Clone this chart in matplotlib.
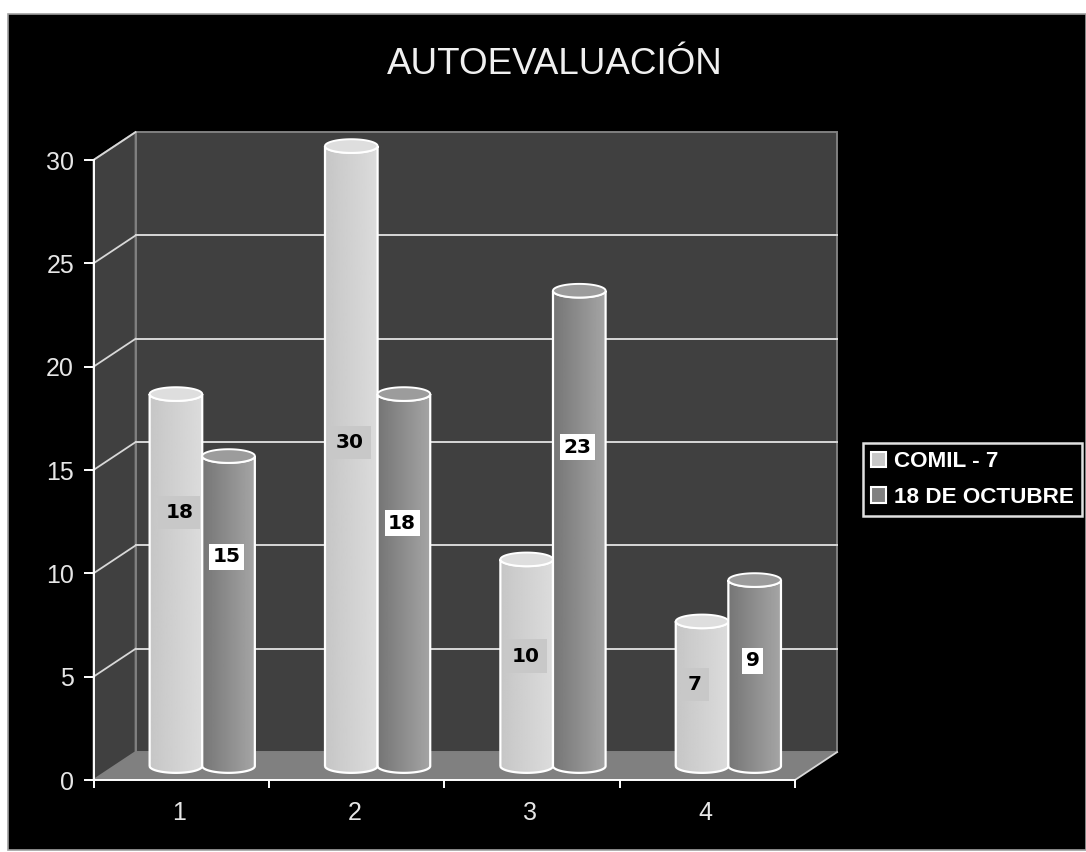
import numpy as np
import matplotlib
matplotlib.use('Agg')
import matplotlib.pyplot as plt
from matplotlib.patches import Patch, PathPatch, Polygon, Rectangle
from matplotlib.path import Path

categories = ['1', '2', '3', '4']
comil = [18, 30, 10, 7]
octubre = [15, 18, 23, 9]
y_ticks = [0, 5, 10, 15, 20, 25, 30]

# where the value boxes sit: part of the bar height, and sideways shift
comil_label_at = [0.72, 0.545, 0.60, 0.66]
octubre_label_at = [0.72, 0.69, 0.70, 0.64]
comil_label_dx = [0.02, -0.01, -0.005, -0.04]

W, H = 1086, 852
DEPTH_X, DEPTH_Y = 0.24, 1.35
BAR_W = 0.30
CAP_H = 0.66
GRID = '#d8d8d8'
WALL = '#404040'
EDGE = '#808080'

plt.rcParams['font.family'] = ['Liberation Sans', 'DejaVu Sans']


def cylinder(ax, left, value, cmap_from, cmap_to, cap_color, z):
    right = left + BAR_W
    mid = left + BAR_W / 2
    base = DEPTH_Y / 2
    top = base + value
    t = np.linspace(np.pi, 2 * np.pi, 40)
    low_x = mid + BAR_W / 2 * np.cos(t)
    low_y = base + CAP_H / 2 * np.sin(t)
    up_x = low_x[::-1]
    up_y = low_y[::-1] + value
    body = Path(np.column_stack([np.r_[low_x, up_x, low_x[0]], np.r_[low_y, up_y, low_y[0]]]), closed=False)

    grad = np.linspace(cmap_from, cmap_to, 64).reshape(1, -1)
    im = ax.imshow(grad, extent=(left, right, base - CAP_H, top + CAP_H), cmap='gray',
                   vmin=0, vmax=255, aspect='auto', zorder=z, interpolation='bilinear')
    patch = PathPatch(body, fc='none', ec='white', lw=1.6, zorder=z + 0.2, clip_on=False)
    ax.add_patch(patch)
    im.set_clip_box(fig.bbox)
    im.set_clip_path(patch)

    a = np.linspace(0, 2 * np.pi, 80)
    cap = np.column_stack([mid + BAR_W / 2 * np.cos(a), top + CAP_H / 2 * np.sin(a)])
    ax.add_patch(Polygon(cap, fc=cap_color, ec='white', lw=1.4, zorder=z + 0.3, clip_on=False))


fig = plt.figure(figsize=(W / 100, H / 100), dpi=100, facecolor='white')
fig.patches.append(Rectangle((8 / W, 1 - 850 / H), (W - 8) / W, 836 / H, transform=fig.transFigure,
                             fc='black', ec='#a0a0a0', lw=1.2, zorder=-1))

ax = fig.add_axes([93.5 / W, 1 - 780 / H, (795 - 93.5) / W, (780 - 160) / H])
ax.patch.set_alpha(0)

# walls and floor
ax.add_patch(Polygon([(DEPTH_X, DEPTH_Y), (4 + DEPTH_X, DEPTH_Y), (4 + DEPTH_X, 30 + DEPTH_Y), (DEPTH_X, 30 + DEPTH_Y)],
                     fc=WALL, ec=EDGE, lw=1.4, clip_on=False, zorder=1))
ax.add_patch(Polygon([(0, 0), (DEPTH_X, DEPTH_Y), (DEPTH_X, 30 + DEPTH_Y), (0, 30)],
                     fc=WALL, ec=EDGE, lw=1.4, clip_on=False, zorder=1))
ax.add_patch(Polygon([(0, 0), (4, 0), (4 + DEPTH_X, DEPTH_Y), (DEPTH_X, DEPTH_Y)],
                     fc=EDGE, ec='none', clip_on=False, zorder=1.1))
ax.plot([4, 4 + DEPTH_X], [0, DEPTH_Y], color=GRID, lw=1.3, clip_on=False, zorder=1.2)

for v in y_ticks[1:]:
    ax.plot([0, DEPTH_X], [v, v + DEPTH_Y], color=GRID, lw=1.3, clip_on=False, zorder=1.5)
    if v < 30:
        ax.plot([DEPTH_X, 4 + DEPTH_X], [v + DEPTH_Y, v + DEPTH_Y], color=GRID, lw=1.4, clip_on=False, zorder=1.5)

# bars
for i in range(len(categories)):
    start = i + 0.5 + 0.12 - BAR_W
    cylinder(ax, start, comil[i], 198, 220, '#dedede', 3 + i)
    cylinder(ax, start + BAR_W, octubre[i], 118, 165, '#9c9c9c', 3.5 + i)
    ax.text(start + BAR_W / 2 + comil_label_dx[i], comil[i] * comil_label_at[i], str(comil[i]), color='black',
            fontsize=14.5, fontweight='bold', family='DejaVu Sans', ha='center', va='center', zorder=20,
            bbox=dict(boxstyle='square,pad=0.35', fc='#c8c8c8', ec='none'))
    ax.text(start + 1.5 * BAR_W - 0.01, octubre[i] * octubre_label_at[i], str(octubre[i]), color='black',
            fontsize=14.5, fontweight='bold', family='DejaVu Sans', ha='center', va='center', zorder=20,
            bbox=dict(boxstyle='square,pad=0.18', fc='white', ec='none'))

ax.set_xlim(0, 4)
ax.set_ylim(0, 30)
ax.set_yticks(y_ticks)
ax.set_xticks(range(5))
ax.set_xticklabels([])
ax.set_xticks(np.arange(len(categories)) + 0.49, minor=True)
ax.set_xticklabels(categories, minor=True)
ax.tick_params(axis='x', which='major', length=6, width=1.4, color='white')
ax.tick_params(axis='x', which='minor', length=0, pad=15, labelsize=18, labelcolor='#e6e6e6')
ax.tick_params(axis='y', length=7, width=1.4, color='white', pad=7, labelsize=18, labelcolor='#e6e6e6')
for name, spine in ax.spines.items():
    if name in ('left', 'bottom'):
        spine.set_color('white')
        spine.set_linewidth(1.4)
        spine.set_zorder(2)
    else:
        spine.set_visible(False)

fig.text(555 / W, 1 - 64 / H, 'AUTOEVALUACIÓN', color='#f0f0f0', fontsize=26.5, ha='center', va='center')

handles = [Patch(fc='#c8c8c8', ec='white', lw=1.5, label='COMIL - 7'),
           Patch(fc='#808080', ec='white', lw=1.5, label='18 DE OCTUBRE')]
leg = fig.legend(handles=handles, loc='lower left', bbox_to_anchor=(863 / W, 1 - 516 / H), borderaxespad=0,
                 facecolor='black', edgecolor='#e0e0e0', fancybox=False, framealpha=1,
                 prop={'weight': 'bold', 'size': 16.2}, handlelength=0.65, handleheight=0.65,
                 handletextpad=0.35, borderpad=0.36, labelspacing=0.66)
leg.get_frame().set_linewidth(1.8)
for text in leg.get_texts():
    text.set_color('white')

fig.savefig('out.png', dpi=100, facecolor='white')
